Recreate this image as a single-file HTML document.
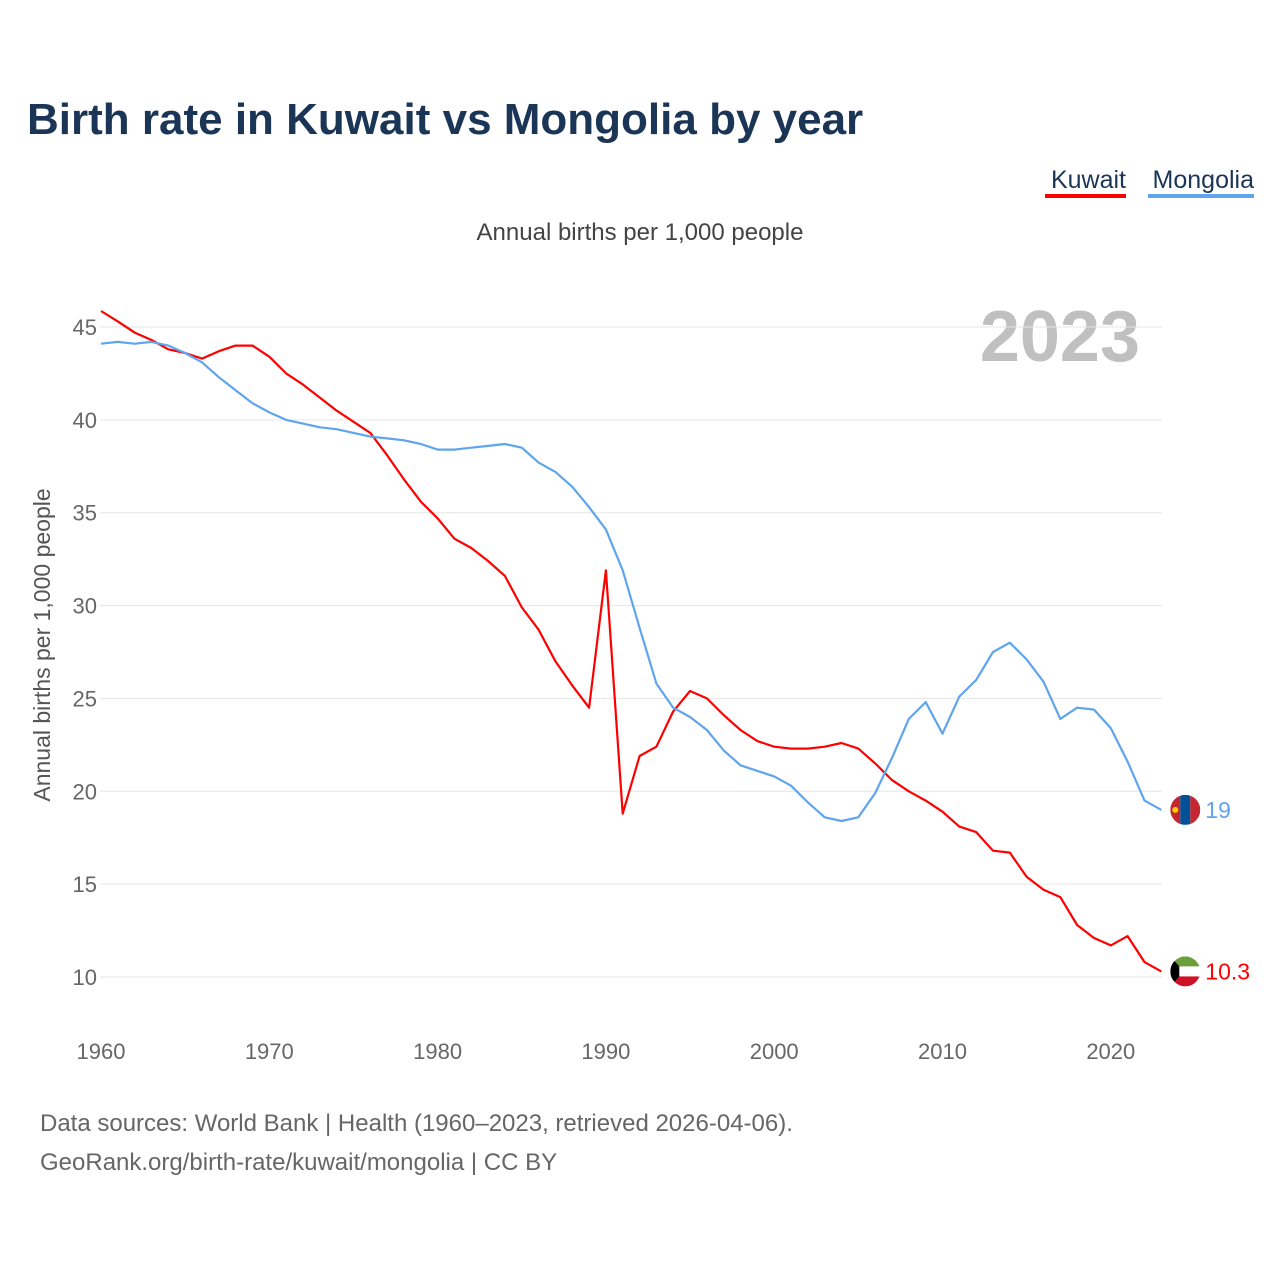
<!DOCTYPE html>
<html><head><meta charset="utf-8"><style>
body{margin:0;background:#fff;}
svg text{font-family:"Liberation Sans",sans-serif;}
</style></head><body>
<svg id="chart" width="1280" height="1280" viewBox="0 0 1280 1280">
<text x="27" y="134" font-size="44" font-weight="bold" fill="#1b3556">Birth rate in Kuwait vs Mongolia by year</text>
<g>
<text x="1126" y="188" font-size="25" fill="#1b3556" text-anchor="end">Kuwait</text>
<rect x="1045" y="194" width="81" height="4" fill="#ff0000"/>
<text x="1254" y="188" font-size="25" fill="#1b3556" text-anchor="end">Mongolia</text>
<rect x="1148" y="194" width="106" height="4" fill="#5ea5ee"/>
</g>
<text x="640" y="240" font-size="24" fill="#444" text-anchor="middle">Annual births per 1,000 people</text>
<text x="1140" y="361" font-size="72" font-weight="bold" fill="#c0c0c0" text-anchor="end">2023</text>
<text transform="translate(50,645) rotate(-90)" font-size="23" fill="#555" text-anchor="middle">Annual births per 1,000 people</text>
<g id="grid"></g><g id="lines"></g><g id="ends"></g>
<text x="40" y="1131" font-size="24" fill="#666">Data sources: World Bank | Health (1960–2023, retrieved 2026-04-06).</text>
<text x="40" y="1170" font-size="24" fill="#666">GeoRank.org/birth-rate/kuwait/mongolia | CC BY</text>
</svg>
<script>
const years=[];for(let y=1960;y<=2023;y++)years.push(y);
const kuwait=[45.86,45.3,44.7,44.3,43.8,43.6,43.3,43.7,44.0,44.0,43.4,42.5,41.9,41.2,40.5,39.9,39.3,38.1,36.8,35.6,34.7,33.6,33.1,32.4,31.6,29.9,28.7,27.0,25.7,24.5,31.9,18.8,21.9,22.4,24.3,25.4,25.0,24.1,23.3,22.7,22.4,22.3,22.3,22.4,22.6,22.3,21.5,20.6,20.0,19.5,18.9,18.1,17.8,16.8,16.7,15.4,14.7,14.3,12.8,12.1,11.7,12.2,10.8,10.3];
const mongolia=[44.1,44.2,44.1,44.2,44.0,43.6,43.1,42.3,41.6,40.9,40.4,40.0,39.8,39.6,39.5,39.3,39.1,39.0,38.9,38.7,38.4,38.4,38.5,38.6,38.7,38.5,37.7,37.2,36.4,35.3,34.1,31.9,28.8,25.8,24.5,24.0,23.3,22.2,21.4,21.1,20.8,20.3,19.4,18.6,18.4,18.6,19.9,21.8,23.9,24.8,23.1,25.1,26.0,27.5,28.0,27.1,25.9,23.9,24.5,24.4,23.4,21.6,19.5,19.0];
const yTicks=[10,15,20,25,30,35,40,45];
const xTicks=[1960,1970,1980,1990,2000,2010,2020];
const X=v=>101+(v-1960)*16.83, Y=v=>977-(v-10)*18.571;
const NS="http://www.w3.org/2000/svg";
function mk(t,a,p){const e=document.createElementNS(NS,t);for(const k in a)e.setAttribute(k,a[k]);p.appendChild(e);return e;}
const grid=document.getElementById('grid'),lines=document.getElementById('lines'),ends=document.getElementById('ends');
yTicks.forEach(v=>{
 const l=mk('line',{x1:100,x2:1162,y1:Y(v),y2:Y(v),stroke:'#e6e6e6','stroke-width':1},grid);
 
 
 const t=mk('text',{x:97,y:Y(v)+8,'font-size':22,fill:'#666','text-anchor':'end'},grid);t.textContent=v;
 
 
});
xTicks.forEach(v=>{
 const t=mk('text',{x:X(v),y:1059,'font-size':22,fill:'#666','text-anchor':'middle'},grid);t.textContent=v;
 
 
});
function series(arr,color,name,label,flag){
 const p=mk('path',{d:arr.map((v,i)=>(i?'L':'M')+X(years[i]).toFixed(1)+','+Y(v).toFixed(1)).join(''),fill:'none',stroke:color,'stroke-width':2.2,'stroke-linejoin':'round'},lines);
 
 
 const last=arr[arr.length-1],cx=X(years[years.length-1])+24,cy=Y(last);
 const g=mk('g',{},ends);
 
 
 flag(g,cx,cy);
 const t=mk('text',{x:cx+20,y:cy+8,'font-size':23,fill:color},ends);t.textContent=label;
 
 
}
series(kuwait,'#ff0000','kuwait','10.3',(g,cx,cy)=>{
 const cp='kc';const d=mk('clipPath',{id:cp},g);mk('circle',{cx,cy,r:15},d);
 const h=mk('g',{'clip-path':'url(#kc)'},g);
 mk('rect',{x:cx-15,y:cy-15,width:30,height:10,fill:'#6a9f3a'},h);
 mk('rect',{x:cx-15,y:cy-5,width:30,height:10,fill:'#fff'},h);
 mk('rect',{x:cx-15,y:cy+5,width:30,height:10,fill:'#ce1126'},h);
 mk('polygon',{points:`${cx-15},${cy-15} ${cx-6},${cy-5} ${cx-6},${cy+5} ${cx-15},${cy+15}`,fill:'#000'},h);
});
series(mongolia,'#5ea5ee','mongolia','19',(g,cx,cy)=>{
 const d=mk('clipPath',{id:'mc'},g);mk('circle',{cx,cy,r:15},d);
 const h=mk('g',{'clip-path':'url(#mc)'},g);
 mk('rect',{x:cx-15,y:cy-15,width:10,height:30,fill:'#c4272f'},h);
 mk('rect',{x:cx-5,y:cy-15,width:10,height:30,fill:'#015197'},h);
 mk('rect',{x:cx+5,y:cy-15,width:10,height:30,fill:'#c4272f'},h);
 mk('circle',{cx:cx-10,cy:cy,r:3,fill:'#f9cf02'},h);
});
</script>
</body></html>
